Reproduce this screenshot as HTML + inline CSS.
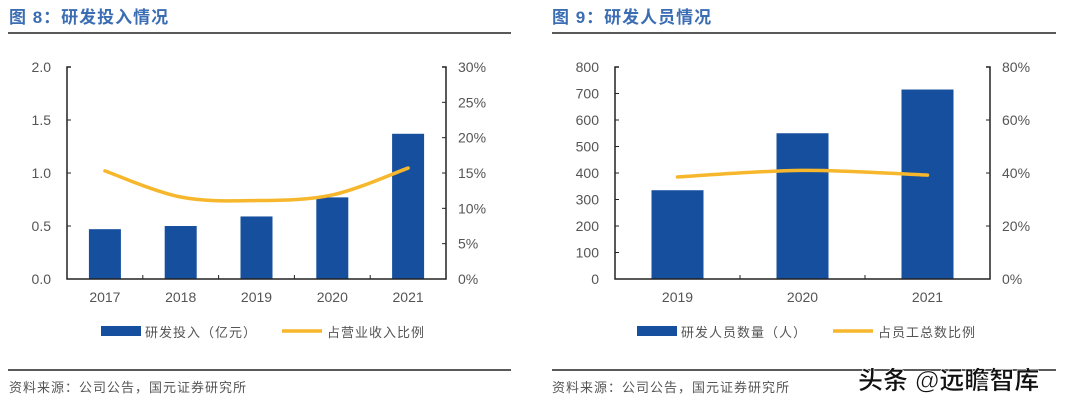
<!DOCTYPE html>
<html><head><meta charset="utf-8">
<style>
html,body{margin:0;padding:0;background:#fff;width:1080px;height:404px;overflow:hidden;font-family:"Liberation Sans","Noto Sans CJK SC",sans-serif;}
svg text{font-family:"Liberation Sans","Noto Sans CJK SC",sans-serif;}
</style></head><body>
<svg id="root" width="1080" height="404" xmlns="http://www.w3.org/2000/svg">
<text x="9" y="23" font-size="17" font-weight="bold" fill="#3b6db3" letter-spacing="1">图 8：研发投入情况</text>
<line x1="8" y1="33" x2="511" y2="33" stroke="#222" stroke-width="1.5"/>
<text x="552" y="23" font-size="17" font-weight="bold" fill="#3b6db3" letter-spacing="1">图 9：研发人员情况</text>
<line x1="552" y1="33" x2="1056" y2="33" stroke="#222" stroke-width="1.5"/>
<line x1="8" y1="370" x2="511" y2="370" stroke="#222" stroke-width="1.5"/>
<line x1="552" y1="370" x2="1056" y2="370" stroke="#222" stroke-width="1.5"/>
<text x="9" y="392" font-size="13" fill="#555" letter-spacing="1">资料来源：公司公告，国元证券研究所</text>
<text x="552" y="392" font-size="13" fill="#555" letter-spacing="1">资料来源：公司公告，国元证券研究所</text>
<text x="858" y="389" font-size="25" font-weight="bold" fill="#111" stroke="#fff" stroke-width="0.6">头条 @远瞻智库</text>
<g id="c8"></g><g id="c9"></g>
</svg>
<script>
// Chart 8 data
const c8Categories = ["2017","2018","2019","2020","2021"];
const c8Bars = [0.47, 0.50, 0.59, 0.77, 1.37];
const c8Ratio = [15.3, 11.6, 11.1, 11.9, 15.7];
const c8LeftTicks = ["0.0","0.5","1.0","1.5","2.0"];
const c8RightTicks = ["0%","5%","10%","15%","20%","25%","30%"];
// Chart 9 data
const c9Categories = ["2019","2020","2021"];
const c9Bars = [335, 550, 715];
const c9Ratio = [38.5, 41.0, 39.2];
const c9LeftTicks = ["0","100","200","300","400","500","600","700","800"];
const c9RightTicks = ["0%","20%","40%","60%","80%"];

const NS="http://www.w3.org/2000/svg";
function mk(parent,tag,attrs,text){const e=document.createElementNS(NS,tag);for(const k in attrs)e.setAttribute(k,attrs[k]);if(text!==undefined)e.textContent=text;parent.appendChild(e);return e;}

function draw(g,cfg){
  const {x0,x1,yTop,yBot,cats,bars,ratio,lt,rt,lmax,rmax,barW,legBar,legLine,legX,legLineX}=cfg;
  const yL=v=>yBot-(v/lmax)*(yBot-yTop);
  const yR=v=>yBot-(v/rmax)*(yBot-yTop);
  const step=(x1-x0)/cats.length;
  const xc=i=>x0+step*(i+0.5);
  lt.forEach((t,i)=>{const v=lmax*i/(lt.length-1);const y=yL(v);
    const tk=mk(g,"line",{x1:x0,y1:y,x2:x0+4,y2:y,stroke:"#222"});
    
    
    const tx=mk(g,"text",{x:x0-16,y:y+5,"font-size":14,fill:"#555","text-anchor":"end"},t);
    
    });
  rt.forEach((t,i)=>{const v=rmax*i/(rt.length-1);const y=yR(v);
    const tk=mk(g,"line",{x1:x1-4,y1:y,x2:x1,y2:y,stroke:"#222"});
    
    
    const tx=mk(g,"text",{x:x1+12,y:y+5,"font-size":14,fill:"#555"},t);
    
    });
  bars.forEach((v,i)=>{const r=mk(g,"rect",{x:xc(i)-barW/2,y:yL(v),width:barW,height:yBot-yL(v),fill:"#154f9e"});
    
    
    const tx=mk(g,"text",{x:xc(i),y:yBot+23,"font-size":14,fill:"#555","text-anchor":"middle"},cats[i]);
    
    });
  for(let i=1;i<cats.length;i++){const t=mk(g,"line",{x1:x0+step*i,y1:yBot,x2:x0+step*i,y2:yBot-4,stroke:"#222"});
    
    }
  const ax=mk(g,"path",{d:`M${x0+4},${yTop}H${x0}V${yBot}H${x1}V${yTop}H${x1-4}`,fill:"none",stroke:"#222","stroke-width":1.5});
  
  
  const pts=ratio.map((v,i)=>[xc(i),yR(v)]);
  let d=`M${pts[0][0]},${pts[0][1]}`;
  for(let i=0;i<pts.length-1;i++){const p0=pts[Math.max(i-1,0)],p1=pts[i],p2=pts[i+1],p3=pts[Math.min(i+2,pts.length-1)];
    d+=` C${p1[0]+(p2[0]-p0[0])/6},${p1[1]+(p2[1]-p0[1])/6} ${p2[0]-(p3[0]-p1[0])/6},${p2[1]-(p3[1]-p1[1])/6} ${p2[0]},${p2[1]}`;}
  const ln=mk(g,"path",{d,fill:"none",stroke:"#f6b72c","stroke-width":3.5,"stroke-linecap":"round"});
  
  
  const lb=mk(g,"rect",{x:legX,y:326,width:40,height:10,fill:"#154f9e"});
  
  
  const lbt=mk(g,"text",{x:legX+44,y:337,"font-size":13,fill:"#555","letter-spacing":1},legBar);
  
  
  const ll=mk(g,"line",{x1:legLineX,y1:331,x2:legLineX+40,y2:331,stroke:"#f6b72c","stroke-width":3.5});
  
  
  const llt=mk(g,"text",{x:legLineX+45,y:337,"font-size":13,fill:"#555","letter-spacing":1},legLine);
  
  
}
draw(document.getElementById("c8"),{x0:67,x1:446,yTop:67,yBot:279,cats:c8Categories,bars:c8Bars,ratio:c8Ratio,lt:c8LeftTicks,rt:c8RightTicks,lmax:2,rmax:30,barW:32,legBar:"研发投入（亿元）",legLine:"占营业收入比例",legX:101,legLineX:282});
draw(document.getElementById("c9"),{x0:615,x1:990,yTop:67,yBot:279,cats:c9Categories,bars:c9Bars,ratio:c9Ratio,lt:c9LeftTicks,rt:c9RightTicks,lmax:800,rmax:80,barW:52,legBar:"研发人员数量（人）",legLine:"占员工总数比例",legX:637,legLineX:833});
</script>
</body></html>
